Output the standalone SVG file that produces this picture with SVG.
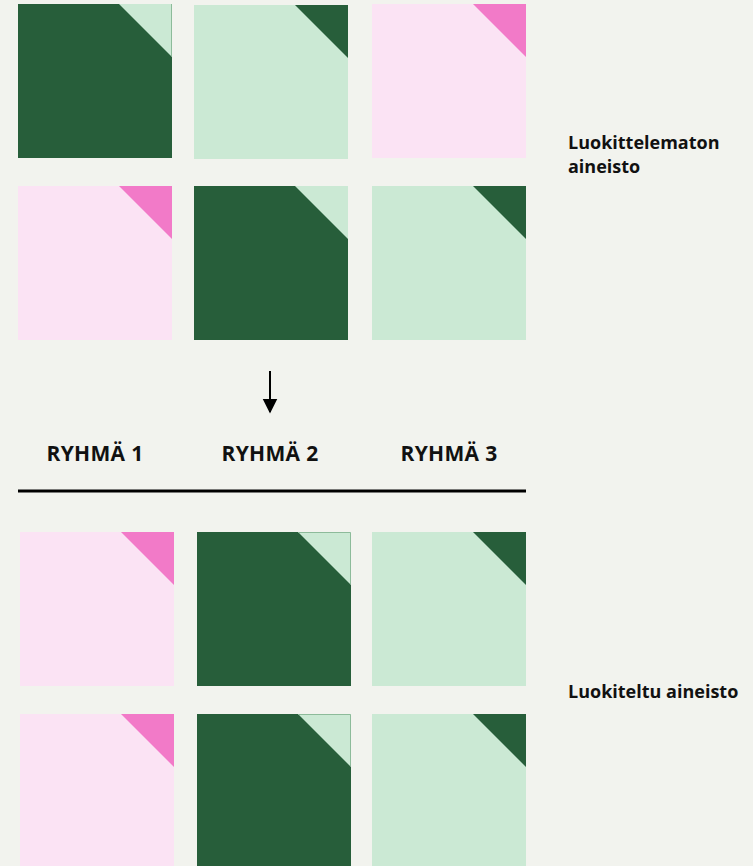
<svg xmlns="http://www.w3.org/2000/svg" width="753" height="866" viewBox="0 0 753 866">
<defs>
<style>
.dk{fill:#275E3A}
.lg{fill:#CBE9D4}
.pp{fill:#FBE3F4}
.hp{fill:#F27AC8}
.edge{fill:none;stroke:#8DBB9A;stroke-width:1}
.lbl{font-family:"Open Sans","Noto Sans","Liberation Sans",sans-serif;font-weight:700;fill:#111111}
.side{font-size:18px}
.grp{font-size:21px;text-anchor:middle;letter-spacing:0.3px}
</style>
<marker id="ah" viewBox="0 0 10 10" refX="9" refY="5" markerWidth="7.5" markerHeight="8.5" markerUnits="strokeWidth" orient="auto">
<path d="M0,0 L10,5 L0,10 Z" fill="#000000"/>
</marker>
</defs>
<rect width="753" height="866" fill="#F2F3EE"/>

<!-- Top: unclassified data -->
<g id="u11"><rect class="dk" x="18" y="4" width="154" height="154"/><polygon class="lg" points="119,4 172,4 172,57"/><polyline class="edge" points="171.5,4 171.5,56"/></g>
<g id="u12"><rect class="lg" x="194" y="5" width="154" height="154"/><polygon class="dk" points="295,5 348,5 348,58"/></g>
<g id="u13"><rect class="pp" x="372" y="4" width="154" height="154"/><polygon class="hp" points="473,4 526,4 526,57"/></g>
<g id="u21"><rect class="pp" x="18" y="186" width="154" height="154"/><polygon class="hp" points="119,186 172,186 172,239"/></g>
<g id="u22"><rect class="dk" x="194" y="186" width="154" height="154"/><polygon class="lg" points="295,186 348,186 348,239"/></g>
<g id="u23"><rect class="lg" x="372" y="186" width="154" height="154"/><polygon class="dk" points="473,186 526,186 526,239"/></g>

<g id="label-unclassified"><text class="lbl side" x="568" y="149">Luokittelematon</text><text class="lbl side" x="568" y="173">aineisto</text></g>

<g id="connectors">
<line x1="270" y1="371" x2="270" y2="412" stroke="#000000" stroke-width="2" marker-end="url(#ah)"/>
</g>

<g id="group-labels">
<text class="lbl grp" x="95" y="461">RYHMÄ 1</text>
<text class="lbl grp" x="270" y="461">RYHMÄ 2</text>
<text class="lbl grp" x="449" y="461">RYHMÄ 3</text>
</g>
<line x1="18" y1="491" x2="526" y2="491" stroke="#000000" stroke-width="3"/>

<!-- Bottom: classified data -->
<g id="c11"><rect class="pp" x="20" y="532" width="154" height="154"/><polygon class="hp" points="121,532 174,532 174,585"/></g>
<g id="c12"><rect class="dk" x="197" y="532" width="154" height="154"/><polygon class="lg" points="298,532 351,532 351,585"/><polyline class="edge" points="298,532.5 350.5,532.5 350.5,584"/></g>
<g id="c13"><rect class="lg" x="372" y="532" width="154" height="154"/><polygon class="dk" points="473,532 526,532 526,585"/></g>
<g id="c21"><rect class="pp" x="20" y="714" width="154" height="154"/><polygon class="hp" points="121,714 174,714 174,767"/></g>
<g id="c22"><rect class="dk" x="197" y="714" width="154" height="154"/><polygon class="lg" points="298,714 351,714 351,767"/><polyline class="edge" points="298,714.5 350.5,714.5 350.5,766"/></g>
<g id="c23"><rect class="lg" x="372" y="714" width="154" height="154"/><polygon class="dk" points="473,714 526,714 526,767"/></g>

<g id="label-classified"><text class="lbl side" x="568" y="698">Luokiteltu aineisto</text></g>
</svg>
